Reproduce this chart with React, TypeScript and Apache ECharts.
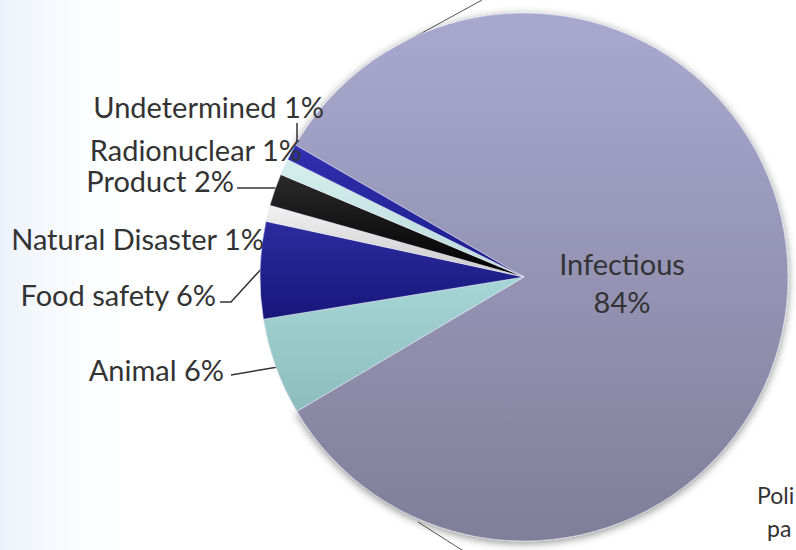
import React, { useEffect, useRef } from "react";
import * as echarts from "echarts";

const categories = ["Infectious", "Animal", "Food safety", "Natural Disaster", "Product", "Radionuclear", "Undetermined"];
const values = [84, 6, 6, 1, 2, 1, 1];

const grad = (top: string, bottom: string) =>
  new echarts.graphic.LinearGradient(0, 0, 0, 1, [
    { offset: 0, color: top },
    { offset: 1, color: bottom },
  ]);

const sliceColors = [
  grad("#a9a9d0", "#807e98"),
  grad("#a6d6d6", "#8cbcbc"),
  grad("#2c2ca0", "#16167a"),
  grad("#f2f2f2", "#c8c8c8"),
  grad("#2a2a2a", "#000000"),
  grad("#d6eeee", "#b8dada"),
  grad("#3030b0", "#1c1c8a"),
];

// label anchor (right edge / centre) and leader-line bends, per category
const labelAnchors: Record<string, { x: number; y: number; align: string; line?: number[][] }> = {
  Infectious: { x: 622, y: 282, align: "center" },
  Animal: { x: 224, y: 369, align: "right", line: [[278, 367], [231, 375]] },
  "Food safety": { x: 216, y: 294, align: "right", line: [[264, 266], [231, 302], [220, 302]] },
  "Natural Disaster": { x: 264, y: 238, align: "right" },
  Product: { x: 234, y: 180, align: "right", line: [[278, 188], [237, 188]] },
  Radionuclear: { x: 302, y: 149, align: "right" },
  Undetermined: { x: 324, y: 106, align: "right", line: [[297, 148], [297, 123]] },
};

export default function App() {
  const ref = useRef<HTMLDivElement>(null);
  useEffect(() => {
    if (!ref.current) return;
    const chart = echarts.init(ref.current, null, { renderer: "svg" });
    const data = categories.map((name, i) => ({
      name,
      value: values[i],
      itemStyle: {
        color: sliceColors[i],
        ...(i === 0 ? { shadowBlur: 8, shadowColor: "rgba(0,0,0,0.45)", shadowOffsetY: 2 } : {}),
      },
      label:
        i === 0
          ? { position: "inside", formatter: "{b}\n{c}%", lineHeight: 38, fontSize: 29 }
          : { formatter: "{b} {c}%", lineHeight: 26 },
      labelLine: { show: !!labelAnchors[name].line },
    }));
    chart.setOption({
      animation: false,
      backgroundColor: "#ffffff",
      graphic: [
        {
          type: "rect",
          z: 0,
          shape: { x: 0, y: 0, width: 160, height: 550 },
          style: {
            fill: new echarts.graphic.LinearGradient(0, 0, 1, 0, [
              { offset: 0, color: "rgba(220,232,247,0.55)" },
              { offset: 1, color: "rgba(255,255,255,0)" },
            ]),
          },
        },
        { type: "line", z: 0, shape: { x1: 400, y1: 45, x2: 482, y2: 0 }, style: { stroke: "#555", lineWidth: 1 } },
        { type: "line", z: 0, shape: { x1: 418, y1: 522, x2: 465, y2: 552 }, style: { stroke: "#555", lineWidth: 1 } },
        { type: "text", z: 0, x: 757, y: 495, style: { text: "Poli", font: "23px Lato", fill: "#333", verticalAlign: "middle" } },
        { type: "text", z: 0, x: 767, y: 528, style: { text: "pa", font: "23px Lato", fill: "#333", verticalAlign: "middle" } },
      ],
      series: [
        {
          type: "pie",
          center: [524, 277],
          radius: 264,
          startAngle: 150,
          clockwise: true,
          avoidLabelOverlap: false,
          data,
          itemStyle: { borderColor: "rgba(235,235,250,0.5)", borderWidth: 1 },
          label: {
            show: true,
            fontFamily: "Lato",
            fontSize: 29,
            color: "#333333",
          },
          labelLine: { show: true, lineStyle: { color: "#333", width: 1.5 } },
          labelLayout: (params: any) => {
            const name = categories[params.dataIndex];
            const a = labelAnchors[name];
            if (!a) return {};
            const out: any = { x: a.x, y: a.y, align: a.align, verticalAlign: "middle" };
            if (a.line) out.labelLinePoints = a.line.length === 2 ? [a.line[0], a.line[1], a.line[1]] : a.line;
            return out;
          },
        },
      ],
    });
    return () => chart.dispose();
  }, []);
  return (
    <div
      ref={ref}
      style={{ position: "fixed", left: 0, top: 0, width: 796, height: 550 }}
    />
  );
}
